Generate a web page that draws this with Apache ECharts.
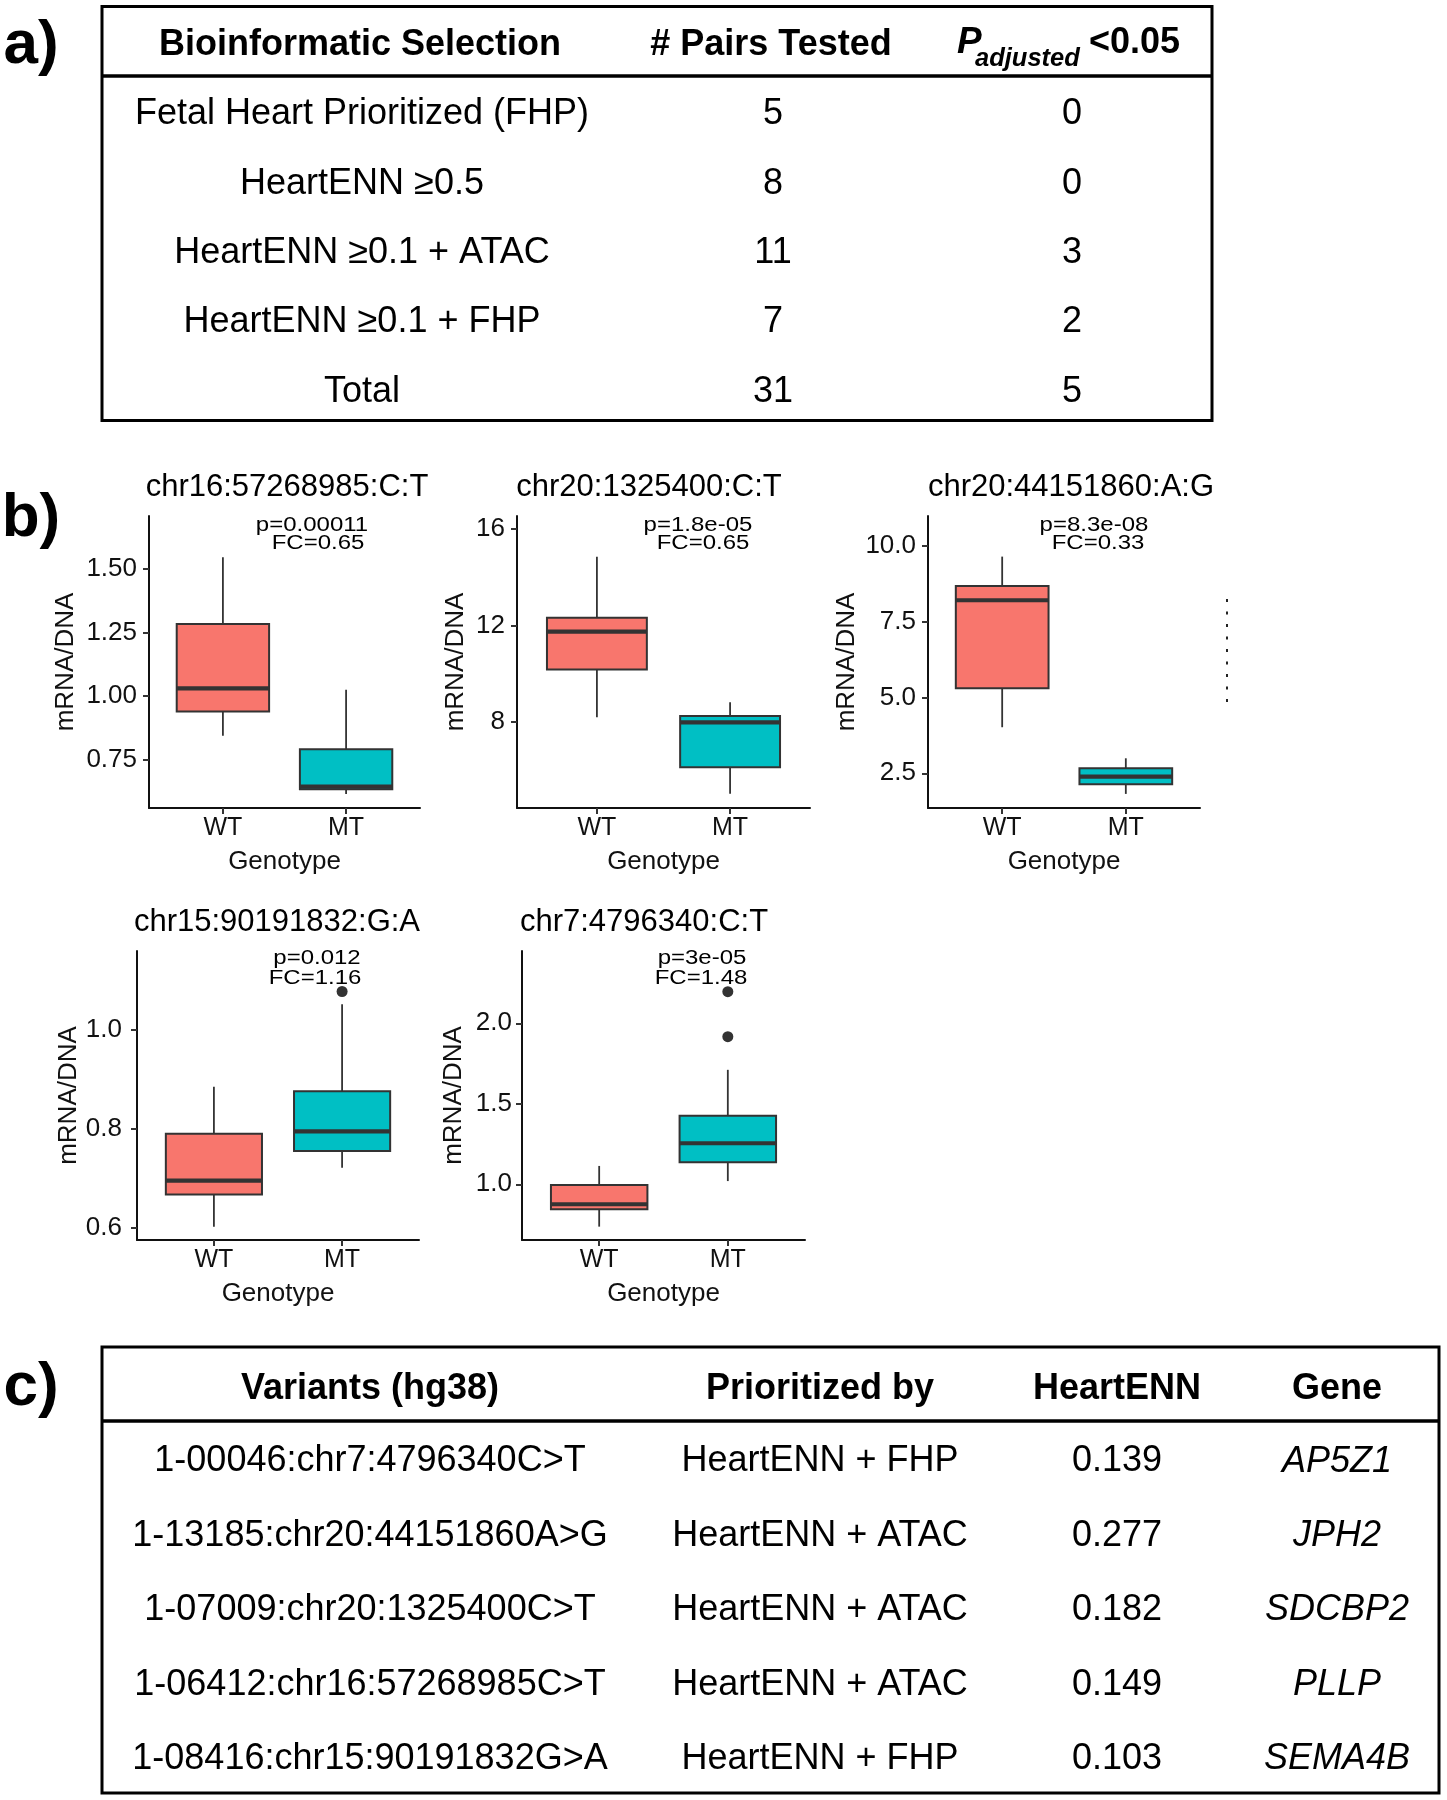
<!DOCTYPE html>
<html><head><meta charset="utf-8">
<script src="https://cdn.jsdelivr.net/npm/echarts@6/dist/echarts.min.js"></script>
<style>html,body{margin:0;padding:0;background:#fff}#chart{width:1447px;height:1800px}</style>
</head><body><div id="chart"></div>
<script>
// ---------- DATA ----------
const genotypes = ['WT', 'MT'];
const plotTitles = ['chr16:57268985:C:T', 'chr20:1325400:C:T', 'chr20:44151860:A:G', 'chr15:90191832:G:A', 'chr7:4796340:C:T'];
const pLabels = ['p=0.00011', 'p=1.8e-05', 'p=8.3e-08', 'p=0.012', 'p=3e-05'];
const fcLabels = ['FC=0.65', 'FC=0.65', 'FC=0.33', 'FC=1.16', 'FC=1.48'];
// [lower whisker, Q1, median, Q3, upper whisker]
const wtStats = [
  [0.843, 0.939, 1.030, 1.284, 1.547],
  [8.18, 10.17, 11.74, 12.32, 14.86],
  [4.02, 5.31, 8.21, 8.68, 9.65],
  [0.602, 0.667, 0.695, 0.790, 0.885],
  [0.737, 0.845, 0.876, 0.996, 1.114]
];
const mtStats = [
  [0.613, 0.632, 0.642, 0.790, 1.025],
  [5.00, 6.10, 7.97, 8.24, 8.81],
  [1.82, 2.137, 2.39, 2.665, 2.995],
  [0.721, 0.755, 0.795, 0.876, 1.052],
  [1.02, 1.137, 1.255, 1.425, 1.711]
];
const mtOutliers = [[], [], [], [1.078], [2.196, 1.917]];
const yTicks = [[0.75, 1.00, 1.25, 1.50], [8, 12, 16], [2.5, 5.0, 7.5, 10.0], [0.6, 0.8, 1.0], [1.0, 1.5, 2.0]];
const yDecimals = [2, 0, 1, 1, 1];
const yRanges = [[0.558, 1.71], [4.41, 16.55], [1.355, 10.99], [0.575, 1.16], [0.654, 2.449]];

const tableAHeaders = ['Bioinformatic Selection', '# Pairs Tested'];
const selections = ['Fetal Heart Prioritized (FHP)', 'HeartENN \u22650.5', 'HeartENN \u22650.1 + ATAC', 'HeartENN \u22650.1 + FHP', 'Total'];
const pairsTested = [5, 8, 11, 7, 31];
const padjSig = [0, 0, 3, 2, 5];

const tableCHeaders = ['Variants (hg38)', 'Prioritized by', 'HeartENN', 'Gene'];
const variants = ['1-00046:chr7:4796340C>T', '1-13185:chr20:44151860A>G', '1-07009:chr20:1325400C>T', '1-06412:chr16:57268985C>T', '1-08416:chr15:90191832G>A'];
const prioritizedBy = ['HeartENN + FHP', 'HeartENN + ATAC', 'HeartENN + ATAC', 'HeartENN + ATAC', 'HeartENN + FHP'];
const heartENN = ['0.139', '0.277', '0.182', '0.149', '0.103'];
const genes = ['AP5Z1', 'JPH2', 'SDCBP2', 'PLLP', 'SEMA4B'];

// ---------- LAYOUT ----------
const FONT = '"Liberation Sans", Arial, Helvetica, sans-serif';
const WT_COLOR = '#F8766D', MT_COLOR = '#00BFC4', INK = '#333333';
const grids = [
  {left: 149, top: 516, width: 271, height: 292},
  {left: 517, top: 516, width: 293, height: 292},
  {left: 928, top: 516, width: 272, height: 292},
  {left: 137, top: 951, width: 282, height: 289},
  {left: 522, top: 951, width: 283, height: 289}
];
const yNameGap = [70, 48, 68, 54, 55];
const yLabelMargin = [12, 12, 12, 15, 10];
const titlePos = [[287, 487], [649, 487], [1071, 487], [277, 922], [644, 922]];
const pPos = [[312, 525], [698, 525], [1094, 525], [317, 958], [702, 958]];
const fcPos = [[318, 543], [703, 543], [1098, 543], [315, 978], [701, 978]];

const graphics = [];
function txt(x, y, text, o, extra) {
  graphics.push(Object.assign({type: 'text', x: x, y: y, silent: true, z: 10,
    style: Object.assign({text: text, fill: '#000', fontFamily: FONT, fontSize: 36,
      align: 'center', verticalAlign: 'middle'}, o || {})}, extra || {}));
}
function line(x1, y1, x2, y2, w, extra) {
  graphics.push({type: 'line', silent: true, z: 10, shape: {x1: x1, y1: y1, x2: x2, y2: y2},
    style: Object.assign({stroke: '#000', lineWidth: w}, extra || {})});
}
function rect(x, y, w, h, lw) {
  graphics.push({type: 'rect', silent: true, z: 10, shape: {x: x, y: y, width: w, height: h},
    style: {fill: 'none', stroke: '#000', lineWidth: lw}});
}

// panel labels
txt(31, 46, 'a)', {fontSize: 62, fontWeight: 'bold'});
txt(31, 519, 'b)', {fontSize: 62, fontWeight: 'bold'});
txt(31, 1388, 'c)', {fontSize: 62, fontWeight: 'bold'});

// table a
rect(102, 6.5, 1110, 414, 3);
line(102, 76, 1212, 76, 3.5);
const aCols = [362, 773, 1072];
txt(360, 45.5, tableAHeaders[0], {fontWeight: 'bold'});
txt(771, 45.5, tableAHeaders[1], {fontWeight: 'bold'});
txt(957, 43, 'P', {fontWeight: 'bold', fontStyle: 'italic', fontSize: 37, align: 'left'});
txt(975, 59, 'adjusted', {fontWeight: 'bold', fontStyle: 'italic', fontSize: 25.5, align: 'left'});
txt(1089, 43, '<0.05', {fontWeight: 'bold', fontSize: 36, align: 'left'});
selections.forEach(function (s, i) {
  const y = 114.5 + i * 69.3;
  txt(aCols[0], y, s);
  txt(aCols[1], y, String(pairsTested[i]));
  txt(aCols[2], y, String(padjSig[i]));
});

// table c
rect(102, 1347, 1337, 446, 3);
line(102, 1421, 1439, 1421, 3.5);
const cCols = [370, 820, 1117, 1337];
tableCHeaders.forEach(function (h, j) { txt(cCols[j], 1389, h, {fontWeight: 'bold'}); });
variants.forEach(function (v, i) {
  const y = 1461.5 + i * 74.4;
  txt(cCols[0], y, v);
  txt(cCols[1], y, prioritizedBy[i]);
  txt(cCols[2], y, heartENN[i]);
  txt(cCols[3], y, genes[i], {fontStyle: 'italic'});
});

// plot titles and annotations
plotTitles.forEach(function (t, i) {
  txt(titlePos[i][0], titlePos[i][1], t, {fontSize: 31});
  txt(pPos[i][0], pPos[i][1], pLabels[i], {fontSize: 24}, {scaleY: 0.88});
  txt(fcPos[i][0], fcPos[i][1], fcLabels[i], {fontSize: 24}, {scaleY: 0.88});
});
// stray clipped artifact at the right of panel b
line(1227, 599, 1227, 708, 2, {stroke: '#222', lineDash: [3, 9.5]});

// ---------- CHART ----------
function boxRender(params, api) {
  const x = api.value(0);
  const lo = api.coord([x, api.value(1)]);
  const q1 = api.coord([x, api.value(2)]);
  const med = api.coord([x, api.value(3)]);
  const q3 = api.coord([x, api.value(4)]);
  const hi = api.coord([x, api.value(5)]);
  const w = api.size([0.75, 0])[0];
  const cx = q1[0];
  const fill = params.dataIndex === 0 ? WT_COLOR : MT_COLOR;
  return {type: 'group', children: [
    {type: 'line', shape: {x1: cx, y1: hi[1], x2: cx, y2: q3[1]}, style: {stroke: INK, lineWidth: 1.8}},
    {type: 'line', shape: {x1: cx, y1: q1[1], x2: cx, y2: lo[1]}, style: {stroke: INK, lineWidth: 1.8}},
    {type: 'rect', shape: {x: cx - w / 2, y: q3[1], width: w, height: q1[1] - q3[1]},
      style: {fill: fill, stroke: INK, lineWidth: 2}},
    {type: 'line', shape: {x1: cx - w / 2, y1: med[1], x2: cx + w / 2, y2: med[1]},
      style: {stroke: INK, lineWidth: 4.2}}
  ]};
}

const xAxes = [], yAxes = [], series = [];
grids.forEach(function (g, i) {
  xAxes.push({
    type: 'value', gridIndex: i, min: 0.4, max: 2.6,
    axisLine: {show: true, onZero: false, lineStyle: {color: '#111', width: 2}},
    axisTick: {show: true, customValues: [1, 2], length: 6, lineStyle: {color: INK, width: 2}},
    axisLabel: {customValues: [1, 2], formatter: function (v) { return genotypes[Math.round(v) - 1]; },
      fontSize: 25, color: '#111', margin: 8, fontFamily: FONT},
    splitLine: {show: false},
    name: 'Genotype', nameLocation: 'middle', nameGap: 41,
    nameTextStyle: {fontSize: 26, color: '#111', fontFamily: FONT}
  });
  yAxes.push({
    type: 'value', gridIndex: i, min: yRanges[i][0], max: yRanges[i][1],
    axisLine: {show: true, onZero: false, lineStyle: {color: '#111', width: 2}},
    axisTick: {show: true, customValues: yTicks[i], length: 6, lineStyle: {color: INK, width: 2}},
    axisLabel: {customValues: yTicks[i], formatter: (function (d) { return function (v) { return Number(v).toFixed(d); }; })(yDecimals[i]),
      fontSize: 26, color: '#111', margin: yLabelMargin[i], fontFamily: FONT},
    splitLine: {show: false},
    name: 'mRNA/DNA', nameLocation: 'middle', nameRotate: 90, nameGap: yNameGap[i],
    nameTextStyle: {fontSize: 26, color: '#111', fontFamily: FONT}
  });
  series.push({
    type: 'custom', xAxisIndex: i, yAxisIndex: i, renderItem: boxRender,
    encode: {x: 0, y: [1, 2, 3, 4, 5]},
    data: [[1].concat(wtStats[i]), [2].concat(mtStats[i])],
    silent: true, animation: false
  });
  if (mtOutliers[i].length) {
    series.push({
      type: 'scatter', xAxisIndex: i, yAxisIndex: i, symbol: 'circle', symbolSize: 11,
      itemStyle: {color: INK, opacity: 1}, silent: true, animation: false,
      data: mtOutliers[i].map(function (v) { return [2, v]; })
    });
  }
});

const chart = echarts.init(document.getElementById('chart'), null, {renderer: 'canvas'});
chart.setOption({
  backgroundColor: '#fff',
  animation: false,
  textStyle: {fontFamily: FONT},
  grid: grids.map(function (g) { return Object.assign({containLabel: false}, g); }),
  xAxis: xAxes,
  yAxis: yAxes,
  series: series,
  graphic: graphics
});
</script></body></html>
